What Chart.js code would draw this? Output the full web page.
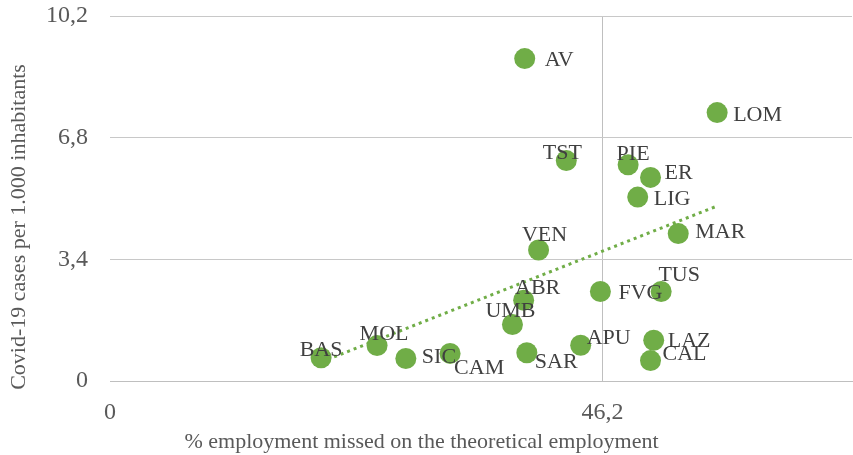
<!DOCTYPE html>
<html>
<head>
<meta charset="utf-8">
<script src="https://cdn.jsdelivr.net/npm/chart.js@4.4.1/dist/chart.umd.min.js"></script>
<style>
  html, body { margin: 0; padding: 0; background: #fff; }
  canvas { display: block; }
</style>
</head>
<body>
<canvas id="grafica" width="853" height="455"></canvas>
<script>
// datos
const regiones = ['AV', 'LOM', 'TST', 'PIE', 'ER', 'LIG', 'MAR', 'VEN', 'TUS', 'FVG',
  'ABR', 'UMB', 'APU', 'LAZ', 'CAL', 'SAR', 'CAM', 'SIC', 'MOL', 'BAS'];
const empleoPerdido = [38.9, 56.95, 42.8, 48.6, 50.7, 49.5, 53.3, 40.2, 51.7, 46.0,
  38.8, 37.75, 44.15, 51.0, 50.7, 39.1, 31.9, 27.75, 25.05, 19.8];
const casosCovid = [9.01, 7.5, 6.16, 6.04, 5.69, 5.14, 4.12, 3.66, 2.5, 2.5,
  2.26, 1.58, 1.0, 1.14, 0.57, 0.79, 0.77, 0.63, 0.99, 0.65];
// linea de tendencia (extremos)
const tendenciaX = [19.8, 56.95];
const tendenciaY = [0.53, 4.89];
const ticksX = [0, 46.2];
const ticksY = [0, 3.4, 6.8, 10.2];

// donde va cada etiqueta respecto al punto: [dx, dy, alineacion]
const posEtiquetas = {
  AV: [20, 0, 'left'], LOM: [16, 1, 'left'], TST: [-4, -9, 'center'], PIE: [5, -13, 'center'],
  ER: [14, -6, 'left'], LIG: [16, 0, 'left'], MAR: [17, -3, 'left'], VEN: [6, -17, 'center'],
  TUS: [18, -18, 'center'], FVG: [18, 0, 'left'], ABR: [14, -14, 'center'], UMB: [-2, -15, 'center'],
  APU: [6, -9, 'left'], LAZ: [14, -1, 'left'], CAL: [12, -8, 'left'], SAR: [8, 7, 'left'],
  CAM: [4, 13, 'left'], SIC: [16, -3, 'left'], MOL: [7, -13, 'center'], BAS: [0, -10, 'center']
};

const fuente = '"Liberation Serif", "Times New Roman", serif';
const verde = '#70AD47';

const formato = v => v === 0 ? '0' : v.toFixed(1).replace('.', ',');

const etiquetasPlugin = {
  id: 'etiquetas',
  afterDatasetsDraw(chart) {
    const ctx = chart.ctx;
    const meta = chart.getDatasetMeta(0);
    ctx.save();
    ctx.font = '22px ' + fuente;
    ctx.fillStyle = '#404040';
    ctx.textBaseline = 'middle';
    meta.data.forEach((p, i) => {
      const o = posEtiquetas[regiones[i]] || [14, 0, 'left'];
      ctx.textAlign = o[2];
      // +2 porque 'middle' deja el texto un poco alto con esta fuente
      ctx.fillText(regiones[i], p.x + o[0], p.y + o[1] + 2);
    });
    ctx.restore();
  },
  afterDraw(chart) {
    // titulos de los ejes
    const ctx = chart.ctx;
    ctx.save();
    ctx.font = '22px ' + fuente;
    ctx.fillStyle = '#595959';
    ctx.textAlign = 'center';
    ctx.textBaseline = 'alphabetic';
    ctx.fillText('% employment missed on the theoretical employment', 421.5, 448);
    ctx.translate(25, 227);
    ctx.rotate(-Math.PI / 2);
    ctx.fillText('Covid-19 cases per 1.000 inhabitants', 0, 0);
    ctx.restore();
  }
};

const puntos = empleoPerdido.map((x, i) => ({ x: x, y: casosCovid[i] }));
const tendencia = tendenciaX.map((x, i) => ({ x: x, y: tendenciaY[i] }));

new Chart(document.getElementById('grafica'), {
  type: 'scatter',
  data: {
    datasets: [{
      data: puntos,
      backgroundColor: verde,
      borderWidth: 0,
      pointRadius: 10.5,
      pointHoverRadius: 10.5,
      clip: false
    }, {
      type: 'line',
      data: tendencia,
      borderColor: verde,
      borderWidth: 3,
      borderDash: [3, 4],
      pointRadius: 0,
      fill: false
    }]
  },
  options: {
    responsive: false,
    devicePixelRatio: 1,
    animation: false,
    layout: { autoPadding: false, padding: { top: 16, right: 1, left: 0, bottom: 0 } },
    plugins: { legend: { display: false }, tooltip: { enabled: false } },
    scales: {
      x: {
        type: 'linear',
        min: 0,
        max: 69.6,
        afterBuildTicks: s => { s.ticks = ticksX.map(v => ({ value: v })); },
        afterFit: s => { s.height = 74; s.paddingLeft = 0; s.paddingRight = 0; },
        grid: {
          drawTicks: false,
          color: c => c.tick && c.tick.value === 0 ? 'rgba(0,0,0,0)' : '#BFBFBF'
        },
        border: { display: true, color: '#BFBFBF' },
        ticks: {
          padding: 17,
          color: '#595959',
          font: { family: fuente, size: 24 },
          maxRotation: 0,
          callback: v => formato(v)
        }
      },
      y: {
        min: 0,
        max: 10.2,
        afterBuildTicks: s => { s.ticks = ticksY.map(v => ({ value: v })); },
        afterFit: s => { s.width = 110; s.paddingTop = 0; s.paddingBottom = 0; },
        grid: { drawTicks: false, color: '#C8C8C8' },
        border: { display: false },
        ticks: {
          padding: 22,
          color: '#595959',
          font: { family: fuente, size: 24 },
          callback: v => formato(v)
        }
      }
    }
  },
  plugins: [etiquetasPlugin]
});
</script>
</body>
</html>
